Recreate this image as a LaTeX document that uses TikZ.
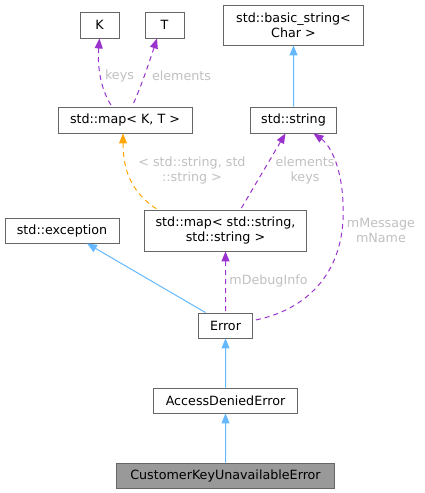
\documentclass[tikz,border=0pt]{standalone}
\usepackage{fontspec}
\setmainfont{DejaVu Sans}
\usetikzlibrary{arrows.meta}
\definecolor{boxline}{HTML}{666666}
\definecolor{selfill}{HTML}{999999}
\definecolor{inhcol}{HTML}{63B8FF}
\definecolor{usecol}{HTML}{9A32CD}
\definecolor{tplcol}{HTML}{FFA500}
\definecolor{lblcol}{HTML}{C0C0C0}
\begin{document}
\begin{tikzpicture}[x=1pt, y=-1pt,
  classbox/.style={draw=boxline, line width=0.9pt, fill=white, inner sep=0pt, align=center,
    font=\fontsize{12.7}{15}\selectfont},
  edgelabel/.style={text=lblcol, inner sep=0pt, align=center, font=\fontsize{12.7}{15}\selectfont},
  inhedge/.style={color=inhcol, line width=1pt, {Triangle[length=10pt,width=8pt]}-},
  useedge/.style={color=usecol, line width=1pt, dash pattern=on 5pt off 4pt, {Triangle[length=10pt,width=8pt]}-},
  tpledge/.style={color=tplcol, line width=1pt, dash pattern=on 5pt off 4pt, {Triangle[length=10pt,width=8pt]}-}]
\useasboundingbox (0,0) rectangle (424,493);
% classes
\node[classbox, minimum width=39pt, minimum height=26pt] (K) at (99.5,25) {K};
\node[classbox, minimum width=39pt, minimum height=26pt] (T) at (164.5,25) {T};
\node[classbox, minimum width=140pt, minimum height=40pt] (bstr) at (293.5,25) {std::basic\_string<\\Char >};
\node[classbox, minimum width=134pt, minimum height=26pt] (mapKT) at (125,120) {std::map< K, T >};
\node[classbox, minimum width=86pt, minimum height=26pt] (str) at (293.5,120) {std::string};
\node[classbox, minimum width=162pt, minimum height=41pt] (mapSS) at (225.5,230.5) {std::map< std::string,\\std::string >};
\node[classbox, minimum width=114pt, minimum height=25pt] (exc) at (62,230.5) {std::exception};
\node[classbox, minimum width=54pt, minimum height=25pt] (err) at (225.5,325.5) {Error};
\node[classbox, minimum width=144pt, minimum height=25pt] (ade) at (225.5,400.5) {AccessDeniedError};
\node[classbox, fill=selfill, minimum width=218pt, minimum height=25pt] (ckue) at (225.5,475.5) {CustomerKeyUnavailableError};
% labels
\node[edgelabel] (lkeys) at (119.5,76) {keys};
\node[edgelabel] (lelem) at (181.5,76) {elements};
\node[edgelabel] (ltpl) at (192,170.5) {< std::string, std\\::string >};
\node[edgelabel] (lelkeys) at (305,170.5) {elements\\keys};
\node[edgelabel] (lmsg) at (381,230) {mMessage\\mName};
\node[edgelabel] (ldbg) at (268.5,281) {mDebugInfo};
% edges
\draw[useedge] (K.south) .. controls (97,70) and (102,92) .. ([xshift=-13pt]mapKT.north);
\draw[useedge] ([xshift=-7.5pt]T.south) .. controls (150,60) and (140,90) .. ([xshift=7pt]mapKT.north);
\draw[inhedge] (bstr.south) -- ([xshift=0.1pt]str.north);
\draw[tpledge] ([xshift=-2pt]mapKT.south) .. controls (123,175) and (135,195) .. ([xshift=-68pt]mapSS.north);
\draw[useedge] ([xshift=-8pt]str.south) -- ([xshift=15pt]mapSS.north);
\draw[useedge] ([xshift=20pt]str.south) .. controls (330,145) and (345,170) .. (343,220)
  .. controls (340,280) and (300,312) .. ([yshift=5pt]err.east);
\draw[useedge] (mapSS.south) -- ([xshift=0.1pt]err.north);
\draw[inhedge] ([xshift=25pt]exc.south) -- ([xshift=-20pt]err.north);
\draw[inhedge] (err.south) -- ([xshift=0.1pt]ade.north);
\draw[inhedge] (ade.south) -- ([xshift=0.1pt]ckue.north);
\end{tikzpicture}
\end{document}
